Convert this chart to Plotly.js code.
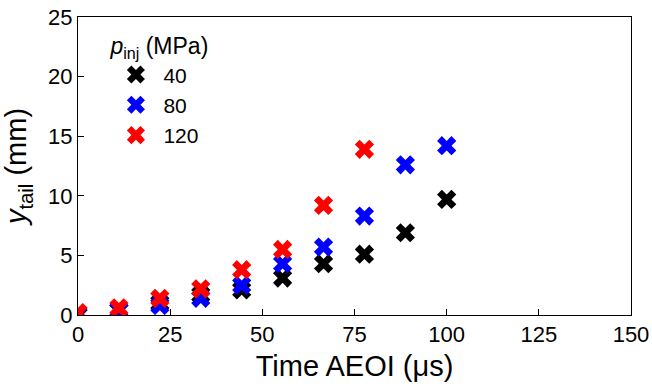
<!DOCTYPE html>
<html>
<head>
<meta charset="utf-8">
<script src="https://cdn.plot.ly/plotly-3.0.1.min.js"></script>
<style>html,body{margin:0;padding:0;background:#fff;}#chart{width:652px;height:386px;}</style>
</head>
<body>
<div id="chart"></div>
<script>
const time40 = [0, 11.1, 22.2, 33.3, 44.4, 55.5, 66.6, 77.7, 88.8, 100];
const y40 = [0.0, 0.4, 1.0, 1.7, 2.1, 3.1, 4.3, 5.1, 6.9, 9.7];
const time80 = [0, 11.1, 22.2, 33.3, 44.4, 55.5, 66.6, 77.7, 88.8, 100];
const y80 = [0.1, 0.4, 0.8, 1.4, 2.5, 4.3, 5.7, 8.3, 12.6, 14.2];
const time120 = [0, 11.1, 22.2, 33.3, 44.4, 55.5, 66.6, 77.7];
const y120 = [0.2, 0.6, 1.4, 2.2, 3.8, 5.5, 9.2, 13.9];
const seriesNames = ['40', '80', '120'];
const colors = ['#000000', '#0000ff', '#ff0000'];

const xs = [time40, time80, time120];
const ys = [y40, y80, y120];
const traces = xs.map((x, i) => ({
  x: x, y: ys[i], name: seriesNames[i], type: 'scatter', mode: 'markers',
  marker: {symbol: 'x', size: 17, color: colors[i], line: {width: 0}}
}));

const fam = 'Arial, "Liberation Sans", sans-serif';
const layout = {
  width: 652, height: 386,
  margin: {l: 78, r: 21, t: 17, b: 71},
  paper_bgcolor: '#fff', plot_bgcolor: '#fff',
  font: {family: fam, color: '#000'},
  showlegend: true,
  legend: {
    x: 0.055, y: 0.975, xanchor: 'left', yanchor: 'top',
    bgcolor: 'rgba(0,0,0,0)',
    itemwidth: 45,
    font: {family: fam, size: 21, color: '#000'},
    title: {text: '<i>p</i><sub>inj</sub> (MPa)', font: {family: fam, size: 23, color: '#000'}, side: 'top'},
    tracegroupgap: 0
  },
  xaxis: {
    range: [0, 150], tickvals: [0, 25, 50, 75, 100, 125, 150],
    ticks: 'inside', ticklen: 6, tickcolor: '#000', showgrid: false, zeroline: false,
    showline: true, linecolor: '#000', linewidth: 1, mirror: true,
    tickfont: {family: fam, size: 22, color: '#000'},
    title: {text: 'Time AEOI (μs)', font: {family: fam, size: 29, color: '#000'}, standoff: 9}
  },
  yaxis: {
    range: [0, 25], tickvals: [0, 5, 10, 15, 20, 25],
    ticks: 'inside', ticklen: 6, tickcolor: '#000', showgrid: false, zeroline: false,
    showline: true, linecolor: '#000', linewidth: 1, mirror: true,
    tickfont: {family: fam, size: 22, color: '#000'},
    title: {text: '<i>y</i><sub>tail</sub> (mm)', font: {family: fam, size: 29, color: '#000'}, standoff: 12}
  }
};
Plotly.newPlot('chart', traces, layout, {displayModeBar: false, staticPlot: true});
</script>
</body>
</html>
